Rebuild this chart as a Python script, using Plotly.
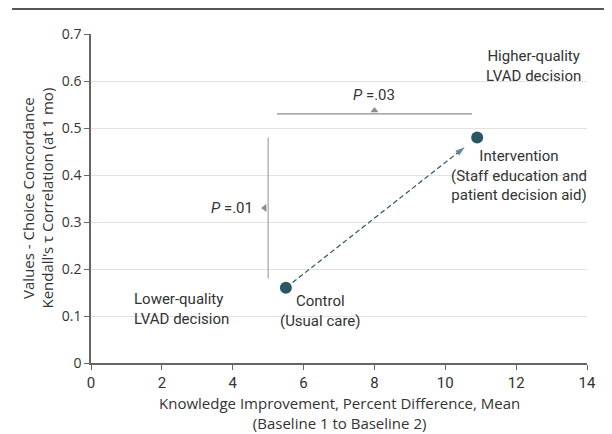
import plotly.graph_objects as go

# ---- data ----
groups = ["Control", "Intervention"]
knowledge = [5.5, 10.9]          # x: knowledge improvement (%)
concordance = [0.16, 0.48]       # y: Kendall's tau
group_labels = ["Control<br>(Usual care)",
                "Intervention<br>(Staff education and<br>patient decision aid)"]

p_y_label = "<i>P</i> =.01"
p_y_x = 5.0
p_y_range = [0.18, 0.48]
p_x_label = "<i>P</i> =.03"
p_x_y = 0.53
p_x_range = [5.25, 10.75]

corner_lo = "Lower-quality<br>LVAD decision"
corner_lo_pos = [2.55, 0.115]
corner_hi = "Higher-quality<br>LVAD decision"
corner_hi_pos = [12.48, 0.632]

x_title = "Knowledge Improvement, Percent Difference, Mean<br>(Baseline 1 to Baseline 2)"
y_title = "Values - Choice Concordance<br>Kendall’s τ Correlation (at 1 mo)"
x_ticks = [0, 2, 4, 6, 8, 10, 12, 14]
y_ticks = [0, 0.1, 0.2, 0.3, 0.4, 0.5, 0.6, 0.7]
y_tick_text = ["0", "0.1", "0.2", "0.3", "0.4", "0.5", "0.6", "0.7"]

# ---- style ----
FONT = "Roboto, sans-serif"
FONT2 = "Open Sans, sans-serif"
TXT = "#333333"
TEAL = "#2b5663"
GREY = "#8c8c8c"
AX = "#666666"

OFF = 8  # default page body margin
W, H = 612 - OFF, 434 - OFF
L, R, T, B = 91 - OFF, 25, 34 - OFF, 71
pw, ph = W - L - R, H - T - B
sx = pw / 14.0
sy = ph / 0.7

fig = go.Figure()

# dashed connector with arrowhead (shortened at both ends)
dx = knowledge[1] - knowledge[0]
dy = concordance[1] - concordance[0]
f0, f1 = 0.035, 0.935
fig.add_trace(go.Scatter(
    x=[knowledge[0] + f0 * dx, knowledge[0] + f1 * dx],
    y=[concordance[0] + f0 * dy, concordance[0] + f1 * dy],
    mode="lines+markers", line=dict(color=TEAL, width=1.2, dash="5px,3px"),
    marker=dict(symbol=["circle", "arrow"], size=[0, 10], color=TEAL,
                angleref="previous", line=dict(width=0)),
    hoverinfo="skip", showlegend=False))

# points
fig.add_trace(go.Scatter(
    x=knowledge, y=concordance, mode="markers",
    marker=dict(color=TEAL, size=12, line=dict(width=0)),
    hoverinfo="skip", showlegend=False))

# P-value brackets
fig.add_shape(type="line", x0=p_y_x, x1=p_y_x, y0=p_y_range[0], y1=p_y_range[1],
              xref="x", yref="y", line=dict(color="#9a9a9a", width=1.1))
fig.add_shape(type="line", x0=p_x_range[0], x1=p_x_range[1], y0=p_x_y, y1=p_x_y,
              xref="x", yref="y", line=dict(color=GREY, width=1.1))

ymid = (p_y_range[0] + p_y_range[1]) / 2
xmid = (p_x_range[0] + p_x_range[1]) / 2
fig.add_trace(go.Scatter(
    x=[p_y_x - 3.5 / sx], y=[ymid], mode="markers",
    marker=dict(symbol="triangle-left", color=GREY, size=7),
    hoverinfo="skip", showlegend=False))
fig.add_annotation(x=p_y_x, y=ymid, xref="x", yref="y", xshift=-13,
                   xanchor="right", text=p_y_label, showarrow=False,
                   font=dict(family=FONT, size=15, color=TXT))
fig.add_trace(go.Scatter(
    x=[xmid], y=[p_x_y + 3.5 / sy], mode="markers",
    marker=dict(symbol="triangle-up", color=GREY, size=7),
    hoverinfo="skip", showlegend=False))
fig.add_annotation(x=xmid, y=p_x_y, xref="x", yref="y", yshift=19,
                   text=p_x_label, showarrow=False,
                   font=dict(family=FONT, size=15, color=TXT))

# group labels
fig.add_annotation(x=knowledge[0], y=concordance[0], xref="x", yref="y",
                   text=group_labels[0], showarrow=False, xanchor="center",
                   yanchor="top", xshift=35, yshift=-2, align="center",
                   font=dict(family=FONT, size=15, color=TXT))
fig.add_annotation(x=knowledge[1], y=concordance[1], xref="x", yref="y",
                   text=group_labels[1], showarrow=False, xanchor="center",
                   yanchor="top", xshift=42, yshift=-8, align="center",
                   font=dict(family=FONT, size=15, color=TXT))

# corner labels
fig.add_annotation(x=corner_lo_pos[0], y=corner_lo_pos[1], xref="x", yref="y",
                   text=corner_lo, showarrow=False, align="left",
                   font=dict(family=FONT, size=15, color=TXT))
fig.add_annotation(x=corner_hi_pos[0], y=corner_hi_pos[1], xref="x", yref="y",
                   text=corner_hi, showarrow=False, align="center",
                   font=dict(family=FONT, size=15, color=TXT))

# axis titles
fig.add_annotation(x=0.5, y=0, xref="paper", yref="paper", yshift=-28,
                   xanchor="center", yanchor="top", text=x_title,
                   showarrow=False, align="center",
                   font=dict(family=FONT2, size=15, color=TXT))
fig.add_annotation(x=0, y=0.5, xref="paper", yref="paper", xshift=-54,
                   xanchor="center", yanchor="middle", text=y_title,
                   textangle=-90, showarrow=False, align="center",
                   font=dict(family=FONT2, size=15, color=TXT))

# top rule
fig.add_shape(type="line", xref="paper", yref="paper",
              x0=-(L - 4) / pw, x1=(pw + R) / pw, y0=1 + (T - 0.9) / ph, y1=1 + (T - 0.9) / ph,
              line=dict(color="#555555", width=2.4))

fig.update_layout(
    width=W, height=H,
    margin=dict(l=L, r=R, t=T, b=B),
    paper_bgcolor="white", plot_bgcolor="white",
    font=dict(family=FONT, size=15, color=TXT),
    xaxis=dict(range=[0, 14], tickvals=x_ticks, showgrid=False, zeroline=False,
               showline=True, linecolor=AX, linewidth=1.5, automargin=False,
               ticks="outside", ticklen=5, tickcolor=AX,
               tickfont=dict(family=FONT, size=15, color=TXT)),
    yaxis=dict(range=[0, 0.7], tickvals=y_ticks, ticktext=y_tick_text,
               showgrid=True, gridcolor="#e2e2e2", gridwidth=1, zeroline=False,
               showline=True, linecolor=AX, linewidth=1.5, automargin=False,
               ticks="outside", ticklen=5, tickcolor=AX,
               tickfont=dict(family=FONT2, size=14, color=TXT)),
)

fig.write_html("out.html")
